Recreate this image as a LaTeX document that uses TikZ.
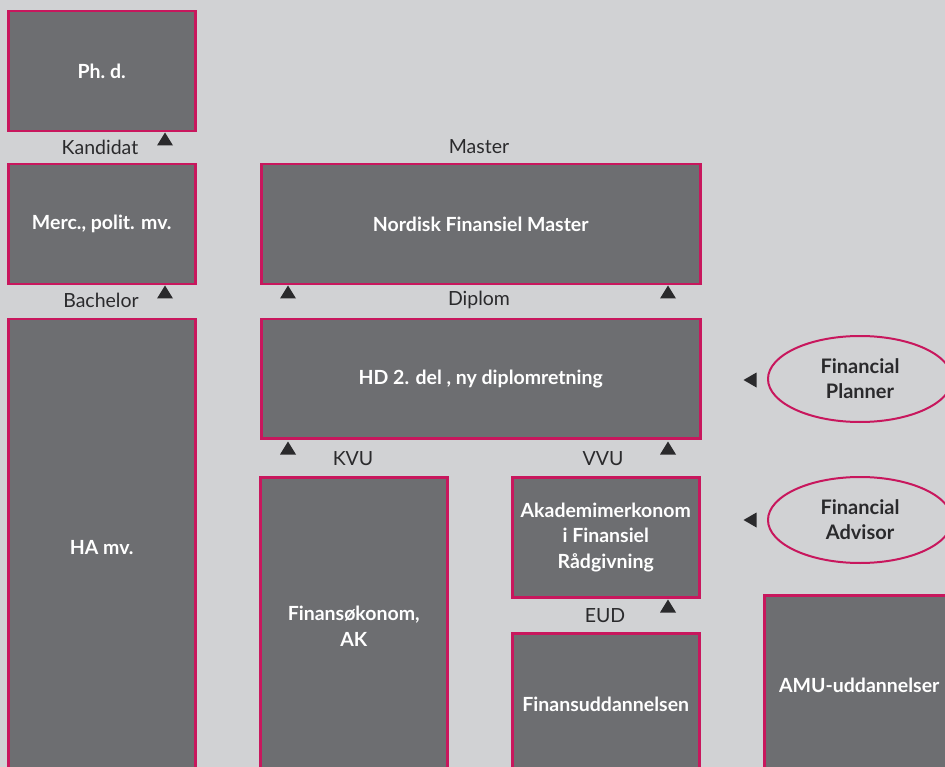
\documentclass[tikz,border=0pt]{standalone}
\usepackage{fontspec}
\setmainfont{Lato}
\usetikzlibrary{shapes.geometric}
\definecolor{bg}{HTML}{D1D2D4}
\definecolor{boxc}{HTML}{6D6E71}
\definecolor{mag}{HTML}{C8175D}
\definecolor{ink}{HTML}{2A2A2C}
\begin{document}
\begin{tikzpicture}[x=1pt,y=-1pt,
  box/.style={draw=mag, fill=boxc, line width=2.5pt, rectangle, anchor=north west,
    text=white, font=\fontsize{19.5}{25.5}\selectfont\bfseries, align=center, inner sep=2pt},
  lbl/.style={text=ink, font=\fontsize{19.5}{24}\selectfont, inner sep=0pt},
  ell/.style={draw=mag, line width=2pt, ellipse, minimum width=184pt, minimum height=86pt,
    text=ink, font=\fontsize{20}{25}\selectfont\bfseries, align=center, inner sep=0pt},
  tri/.style={fill=ink, draw=none}]
\useasboundingbox (0,0) rectangle (945,767);
\fill[bg] (0,0) rectangle (945,767);
\clip (0,0) rectangle (945,767);
% boxes
\node[box, minimum width=187pt, minimum height=120pt] (phd) at (7,10) {Ph.~d.};
\node[box, minimum width=187pt, minimum height=120pt] (merc) at (7,163) {Merc., polit. mv.};
\node[box, minimum width=187pt, minimum height=456pt] (ha) at (7,318) {HA mv.};
\node[box, minimum width=439pt, minimum height=120pt] (nfm) at (260,163) {Nordisk Finansiel Master};
\node[box, minimum width=439pt, minimum height=119pt] (hd) at (260,318) {HD 2. del , ny diplomretning};
\node[box, minimum width=187pt, minimum height=298pt] (fok) at (259,476) {Finansøkonom,\\AK};
\node[box, minimum width=187pt, minimum height=120pt] (akad) at (511,476) {Akademimerkonom\\i Finansiel\\Rådgivning};
\node[box, minimum width=187pt, minimum height=142pt] (fud) at (511,632) {Finansuddannelsen};
\node[box, minimum width=190pt, minimum height=180pt] (amu) at (763,594) {AMU-uddannelser};
% ellipses
\node[ell] (fp) at (860,379) {Financial\\Planner};
\node[ell] (fa) at (860,520) {Financial\\Advisor};
% labels
\node[lbl] (kand) at (100,147) {Kandidat};
\node[lbl] (bach) at (101,300) {Bachelor};
\node[lbl] (mast) at (479,147) {Master};
\node[lbl] (dipl) at (479,300) {Diplom};
\node[lbl] (kvu) at (353,459) {KVU};
\node[lbl] (vvu) at (603,459) {VVU};
\node[lbl] (eud) at (605,616) {EUD};
% triangle anchors
\coordinate (t1) at (165,139);
\coordinate (t2) at (165,292);
\coordinate (t3) at (288,292);
\coordinate (t4) at (668,292);
\coordinate (t5) at (288,448);
\coordinate (t6) at (668,448);
\coordinate (t7) at (668,606);
\coordinate (t8) at (750,380);
\coordinate (t9) at (750,520);
\foreach \t in {t1,t2,t3,t4,t5,t6,t7}
  \fill[tri] (\t) ++(-8,6.5) -- ++(16,0) -- ++(-8,-13) -- cycle;
\foreach \t in {t8,t9}
  \fill[tri] (\t) ++(6.5,-7.5) -- ++(0,15) -- ++(-13,-7.5) -- cycle;
\end{tikzpicture}
\end{document}
